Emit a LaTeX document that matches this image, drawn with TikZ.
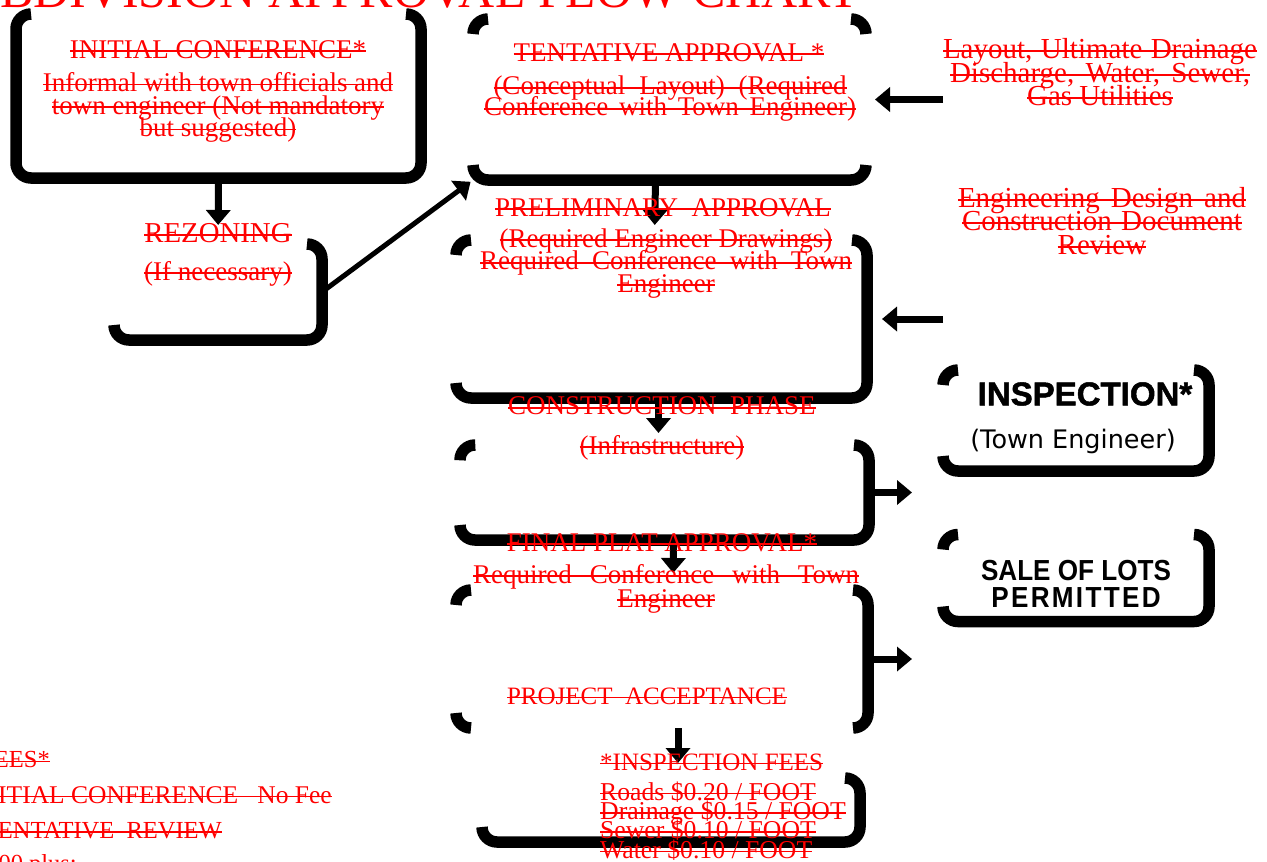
\documentclass[tikz,border=0pt]{standalone}
\usepackage{fontspec}
\setmainfont{Liberation Serif}
\setsansfont{Liberation Sans}
\newfontfamily\heavyfont{Liberation Sans}[BoldFeatures={FakeBold=1.5}]
\newfontfamily\lotsfont{Liberation Sans}[FakeStretch=0.9]
\newfontfamily\permfont{Liberation Sans}[FakeStretch=0.9, LetterSpace=8]
\newfontfamily\townfont{DejaVu Sans}
\setlength{\lineskiplimit}{-100pt}
\newsavebox{\strkbox}
\newcommand{\strk}[2][0pt]{\sbox{\strkbox}{#2}\ifdim#1>\wd\strkbox\sbox{\strkbox}{\makebox[#1][s]{#2}}\fi\rlap{\rule[0.5ex]{\wd\strkbox}{1.8pt}}\usebox{\strkbox}}
\usepackage{tikz}
\usetikzlibrary{arrows.meta}

\begin{document}
\begin{tikzpicture}[x=1pt, y=-1pt,
            box/.style = {inner sep=0pt, outer sep=0pt},
            frame/.style = {line width=11.5pt, rounded corners=15pt},
            arr/.style = {line width=7pt, -{Triangle[width=24pt, length=15pt]}},
            redtext/.style = {text=red, inner sep=0pt, align=center, font=\fontsize{27}{22.5}\selectfont},
            blacktext/.style = {inner sep=0pt, align=center}]
            \useasboundingbox (0,0) rectangle (1267,862);
            \clip (0,0) rectangle (1267,862);
            \node[redtext, anchor=base west, font=\fontsize{50}{50}\selectfont] (title) at (-64,7) {\strk{SUBDIVISION APPROVAL FLOW CHART}};
            \node[box, minimum width=405pt, minimum height=164pt] (init) at (218.5,96) {};
            \node[box, minimum width=208pt, minimum height=96pt] (rez) at (218,292) {};
            \node[box, minimum width=393pt, minimum height=161pt] (tent) at (669.5,99.5) {};
            \node[box, minimum width=411pt, minimum height=158pt] (prel) at (661.5,319) {};
            \node[box, minimum width=409pt, minimum height=95pt] (const) at (664.5,492.5) {};
            \node[box, minimum width=412pt, minimum height=138pt] (final) at (662,659) {};
            \node[box, minimum width=378pt, minimum height=64pt] (fee) at (671,810) {};
            \node[box, minimum width=266pt, minimum height=101pt] (insp) at (1076,420.5) {};
            \node[box, minimum width=266pt, minimum height=87pt] (lots) at (1076,578) {};
            \draw[frame] ([xshift=15pt]init.north west) -- (init.north west) -- (init.south west) -- (init.south east) -- (init.north east) -- ([xshift=-15pt]init.north east);
            \draw[frame] ([xshift=-15pt]rez.north east) -- (rez.north east) -- (rez.south east) -- (rez.south west) -- ([yshift=15pt]rez.south west);
            \draw[frame] ([yshift=-15pt]tent.north west) -- (tent.north west) -- ([xshift=15pt]tent.north west);
            \draw[frame] ([xshift=-15pt]tent.north east) -- (tent.north east) -- ([yshift=-15pt]tent.north east);
            \draw[frame] ([yshift=15pt]tent.south west) -- (tent.south west) -- (tent.south east) -- ([yshift=15pt]tent.south east);
            \draw[frame] ([yshift=-15pt]prel.north west) -- (prel.north west) -- ([xshift=15pt]prel.north west);
            \draw[frame] ([xshift=-15pt]prel.north east) -- (prel.north east) -- (prel.south east) -- (prel.south west) -- ([yshift=15pt]prel.south west);
            \draw[frame] ([yshift=-13pt]const.north west) -- (const.north west) -- ([xshift=13pt]const.north west);
            \draw[frame] ([xshift=-15pt]const.north east) -- (const.north east) -- (const.south east) -- (const.south west) -- ([yshift=15pt]const.south west);
            \draw[frame] ([yshift=-15pt]final.north west) -- (final.north west) -- ([xshift=15pt]final.north west);
            \draw[frame] ([xshift=-15pt]final.north east) -- (final.north east) -- (final.south east) -- ([xshift=-15pt]final.south east);
            \draw[frame] ([yshift=15pt]final.south west) -- (final.south west) -- ([xshift=15pt]final.south west);
            \draw[frame] ([xshift=-15pt]fee.north east) -- (fee.north east) -- (fee.south east) -- (fee.south west) -- ([yshift=15pt]fee.south west);
            \draw[frame] ([yshift=-15pt]insp.north west) -- (insp.north west) -- ([xshift=15pt]insp.north west);
            \draw[frame] ([xshift=-15pt]insp.north east) -- (insp.north east) -- (insp.south east) -- (insp.south west) -- ([yshift=15pt]insp.south west);
            \draw[frame] ([yshift=-15pt]lots.north west) -- (lots.north west) -- ([xshift=15pt]lots.north west);
            \draw[frame] ([xshift=-15pt]lots.north east) -- (lots.north east) -- (lots.south east) -- (lots.south west) -- ([yshift=15pt]lots.south west);
            \draw[arr, shorten >=19pt] (init.south) -- (rez.north);
            \draw[arr, line width=5pt, shorten >=3pt] (rez.east) -- (tent.south west);
            \draw[arr, shorten >=15pt] ([xshift=-14pt]tent.south) -- ([xshift=-7pt]prel.north);
            \draw[arr, shorten >=12pt] ([xshift=-3pt]prel.south) -- ([xshift=-6pt]const.north);
            \draw[arr, shorten >=17pt] ([xshift=9pt]const.south) -- ([xshift=11pt]final.north);
            \draw[arr, shorten >=15pt] ([xshift=16pt]final.south) -- ([xshift=7pt]fee.north);
            \draw[arr, shorten >=31pt] (const.east) -- (const.east -| insp.west);
            \draw[arr, shorten >=31pt] (final.east) -- (final.east -| lots.west);
            \draw[arr, shorten >=9pt] (tent.east -| insp.west) -- (tent.east);
            \draw[arr, shorten >=15pt] (prel.east -| insp.west) -- (prel.east);
            \node[redtext] (inittitle) at (218,49.5) {\strk{INITIAL CONFERENCE*}};
            \node[redtext] (initbody) at (218,107.5) {\strk{Informal with town officials and}\\\strk{town engineer (Not mandatory}\\\strk{but suggested)}};
            \node[redtext, font=\fontsize{28.8}{22.5}\selectfont] (reztitle) at (218,233) {\strk{REZONING}};
            \node[redtext] (rezbody) at (218,273.5) {\strk{(If necessary)}};
            \node[redtext] (tenttitle) at (669,52.5) {\strk{TENTATIVE APPROVAL *}};
            \node[redtext, font=\fontsize{27}{21}\selectfont] (tentbody) at (670,99) {\strk[353pt]{(Conceptual Layout) (Required}\\\strk[372pt]{Conference with Town Engineer)}};
            \node[redtext, font=\fontsize{29}{23.5}\selectfont] (layout) at (1100,72.5) {\strk[314pt]{Layout, Ultimate Drainage}\\\strk[300pt]{Discharge, Water, Sewer,}\\\strk{Gas Utilities}};
            \node[redtext, font=\fontsize{29}{23.5}\selectfont] (eng) at (1102,221) {\strk[288pt]{Engineering Design and}\\\strk[280pt]{Construction Document}\\\strk{Review}};
            \node[redtext] (preltitle) at (663,207.5) {\strk{PRELIMINARY~ APPROVAL}};
            \node[redtext] (prelbody) at (666,263.5) {\strk{(Required Engineer Drawings)}\\\strk[372pt]{Required Conference with Town}\\\strk{Engineer}};
            \node[redtext] (consttitle) at (662,406) {\strk{CONSTRUCTION~ PHASE}};
            \node[redtext] (constbody) at (662,447.5) {\strk{(Infrastructure)}};
            \node[redtext] (finaltitle) at (662,542.5) {\strk{FINAL PLAT APPROVAL*}};
            \node[redtext, font=\fontsize{27}{24}\selectfont] (finalbody) at (666,588.5) {\strk[386pt]{Required Conference with Town}\\\strk{Engineer}};
            \node[redtext, font=\fontsize{25}{22.5}\selectfont] (accept) at (647,696) {\strk{PROJECT~ ACCEPTANCE}};
            \node[redtext, anchor=west, font=\fontsize{25}{22.5}\selectfont] (feetitle) at (600,762) {\strk{*INSPECTION FEES}};
            \node[redtext, anchor=west, align=left, font=\fontsize{25.7}{19.3}\selectfont] (feebody) at (600,821) {\strk{Roads \$0.20 / FOOT}\\\strk{Drainage \$0.15 / FOOT}\\\strk{Sewer \$0.10 / FOOT}\\\strk{Water \$0.10 / FOOT}};
            \node[redtext, anchor=east, font=\fontsize{24.5}{22.5}\selectfont] (legfees) at (50,760) {\strk{FEES*}};
            \node[redtext, anchor=east, font=\fontsize{25.5}{22.5}\selectfont] (leginit) at (332,795) {\strk{INITIAL CONFERENCE~~ No Fee}};
            \node[redtext, anchor=east, font=\fontsize{24.5}{22.5}\selectfont] (legtent) at (222,831) {\strk{TENTATIVE~ REVIEW}};
            \node[redtext, anchor=east, font=\fontsize{24.5}{22.5}\selectfont] (legplus) at (77,866) {\strk{00 plus:}};
            \node[blacktext, font=\heavyfont\bfseries\fontsize{33}{33}\selectfont] (insptitle) at (1085,394) {INSPECTION*};
            \node[blacktext, font=\townfont\fontsize{25.5}{25.5}\selectfont] (inspbody) at (1073,441) {(Town Engineer)};
            \node[blacktext, font=\lotsfont\bfseries\fontsize{29}{27}\selectfont] (lotstext) at (1076,583.5) {SALE OF LOTS\\{\permfont\bfseries PERMITTED}};
        \end{tikzpicture}
\end{document}
